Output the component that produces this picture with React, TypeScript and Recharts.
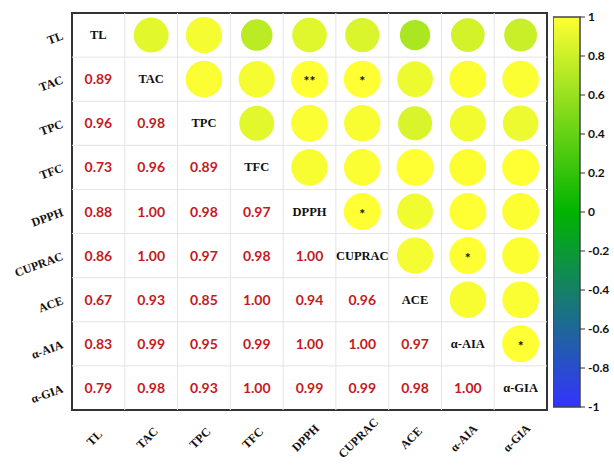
import React from 'react';
import {
  ScatterChart,
  Scatter,
  XAxis,
  YAxis,
  ReferenceLine,
  ReferenceArea,
  BarChart,
  Bar,
} from 'recharts';

// variables, in matrix order
const variables = ['TL', 'TAC', 'TPC', 'TFC', 'DPPH', 'CUPRAC', 'ACE', 'α-AIA', 'α-GIA'];

// lower triangle of the correlation matrix (row i holds r with columns 0..i-1)
const corrTAC = [0.89];
const corrTPC = [0.96, 0.98];
const corrTFC = [0.73, 0.96, 0.89];
const corrDPPH = [0.88, 1.0, 0.98, 0.97];
const corrCUPRAC = [0.86, 1.0, 0.97, 0.98, 1.0];
const corrACE = [0.67, 0.93, 0.85, 1.0, 0.94, 0.96];
const corrAIA = [0.83, 0.99, 0.95, 0.99, 1.0, 1.0, 0.97];
const corrGIA = [0.79, 0.98, 0.93, 1.0, 0.99, 0.99, 0.98, 1.0];
const lowerRows = [[], corrTAC, corrTPC, corrTFC, corrDPPH, corrCUPRAC, corrACE, corrAIA, corrGIA];

// significance marks in the upper triangle: [row, col, mark]
const marks: [number, number, string][] = [
  [1, 4, '**'],
  [1, 5, '*'],
  [4, 5, '*'],
  [5, 7, '*'],
  [7, 8, '*'],
];

const colorTicks = [-1, -0.8, -0.6, -0.4, -0.2, 0, 0.2, 0.4, 0.6, 0.8, 1];
const colorRange = [{ name: 'r', range: [-1, 1] }];

const cellTicks = variables.map((_, i) => i + 0.5);
const gridLines = variables.slice(1).map((_, i) => i + 1);

const YELLOW = [255, 255, 51];
const GREEN = [0, 180, 0];
const BLUE = [51, 51, 255];

function corrColor(v: number) {
  const to = v >= 0 ? YELLOW : BLUE;
  const t = Math.abs(v);
  const c = GREEN.map((g, k) => Math.round(g + (to[k] - g) * t));
  return `rgb(${c[0]},${c[1]},${c[2]})`;
}

function getCorr(i: number, j: number) {
  return i > j ? lowerRows[i][j] : lowerRows[j][i];
}

const cells: any[] = [];
variables.forEach((_, i) => {
  variables.forEach((__, j) => {
    const base = { x: j + 0.5, y: i + 0.5 };
    if (i === j) cells.push({ ...base, kind: 'label', label: variables[i] });
    else if (i > j) cells.push({ ...base, kind: 'number', value: getCorr(i, j) });
    else {
      const m = marks.find((mk) => mk[0] === i && mk[1] === j);
      cells.push({ ...base, kind: 'circle', value: getCorr(i, j), mark: m ? m[2] : '' });
    }
  });
});

const serif = '"Liberation Serif", "Times New Roman", serif';
const sans = 'Lato, "Liberation Sans", sans-serif';

const CellShape = (props: any) => {
  const { cx, cy, payload } = props;
  if (payload.kind === 'label') {
    return (
      <text x={cx} y={cy + 4} textAnchor="middle" fontFamily={serif} fontWeight="bold" fontSize={12.5} fill="#111">
        {payload.label}
      </text>
    );
  }
  if (payload.kind === 'number') {
    return (
      <text x={cx} y={cy + 5} textAnchor="middle" fontFamily={sans} fontWeight="bold" fontSize={14} fill="#c41a22">
        {payload.value.toFixed(2)}
      </text>
    );
  }
  const r = 18.5 * Math.sqrt(Math.abs(payload.value));
  return (
    <g>
      <circle cx={cx} cy={cy} r={r} fill={corrColor(payload.value)} />
      {payload.mark && (
        <text x={cx} y={cy + 7} textAnchor="middle" fontFamily={sans} fontWeight="bold" fontSize={14} fill="#111">
          {payload.mark}
        </text>
      )}
    </g>
  );
};

const YTick = ({ x, y, payload }: any) => (
  <text
    x={x}
    y={y + 4}
    transform={`rotate(-20, ${x}, ${y + 4})`}
    textAnchor="end"
    fontFamily={serif}
    fontWeight="bold"
    fontSize={12}
    fill="#111"
  >
    {variables[Math.floor(payload.value)]}
  </text>
);

// bottom labels are centred on a point a little below the box and turned 45°
const XTick = ({ x, y, payload }: any) => (
  <g transform={`translate(${x - 4}, ${y + 20}) rotate(-45)`}>
    <text x={0} y={4} textAnchor="middle" fontFamily={serif} fontWeight="bold" fontSize={12} fill="#111">
      {variables[Math.floor(payload.value)]}
    </text>
  </g>
);

export default function App() {
  return (
    <div style={{ position: 'absolute', left: 0, top: 0, width: 614, height: 466, background: '#fff' }}>
      <div style={{ position: 'absolute', left: 0, top: 0 }}>
        <ScatterChart width={553} height={466} margin={{ top: 13, right: 6, bottom: 6, left: 6 }}>
          <XAxis
            type="number"
            dataKey="x"
            domain={[0, 9]}
            ticks={cellTicks}
            interval={0}
            height={50}
            tickLine={false}
            axisLine={false}
            tick={<XTick />}
          />
          <YAxis
            type="number"
            dataKey="y"
            domain={[0, 9]}
            reversed
            ticks={cellTicks}
            interval={0}
            width={66}
            tickLine={false}
            axisLine={false}
            tick={<YTick />}
          />
          {gridLines.map((k) => (
            <ReferenceLine key={`vx-${k}`} x={k} stroke="#e4e4e4" />
          ))}
          {gridLines.map((k) => (
            <ReferenceLine key={`hy-${k}`} y={k} stroke="#e4e4e4" />
          ))}
          <ReferenceArea x1={0} x2={9} y1={0} y2={9} fill="none" stroke="#333" strokeWidth={2} />
          <Scatter data={cells} shape={CellShape} isAnimationActive={false} />
        </ScatterChart>
      </div>
      <div style={{ position: 'absolute', left: 553, top: 0 }}>
        <BarChart
          width={61}
          height={466}
          data={colorRange}
          margin={{ top: 17, right: 0, bottom: 59, left: 0 }}
          barCategoryGap={0}
        >
          <defs>
            <linearGradient id="corrScale" x1="0" y1="0" x2="0" y2="1">
              <stop offset="0%" stopColor={corrColor(1)} />
              <stop offset="50%" stopColor={corrColor(0)} />
              <stop offset="100%" stopColor={corrColor(-1)} />
            </linearGradient>
          </defs>
          <XAxis dataKey="name" hide />
          <YAxis
            orientation="right"
            domain={[-1, 1]}
            ticks={colorTicks}
            interval={0}
            width={34}
            axisLine={false}
            tickSize={5}
            tickMargin={3}
            tickLine={{ stroke: '#333' }}
            tick={{ fill: '#111', fontSize: 12, fontWeight: 'bold', fontFamily: sans }}
          />
          <Bar dataKey="range" fill="url(#corrScale)" stroke="#444" strokeWidth={1.5} isAnimationActive={false} />
        </BarChart>
      </div>
    </div>
  );
}
